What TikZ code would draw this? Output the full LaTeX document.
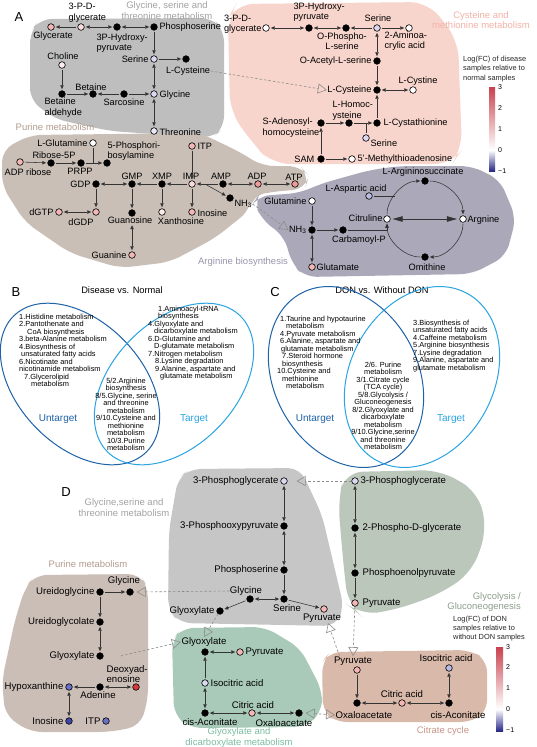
\documentclass[tikz,border=0pt]{standalone}
\usepackage{fontspec}
\setmainfont{Liberation Sans}
\usetikzlibrary{arrows.meta}
\definecolor{pkA}{HTML}{F2B6B6}
\definecolor{pkB}{HTML}{EC9A9A}
\definecolor{pkL}{HTML}{F8DCDC}
\definecolor{lav}{HTML}{D8D8F0}
\definecolor{lav2}{HTML}{B8BCE2}
\definecolor{rdN}{HTML}{D83A3A}
\definecolor{blN}{HTML}{6A70C4}
\definecolor{blD}{HTML}{3E46A8}
\definecolor{rgGray}{HTML}{BEBEBE}
\definecolor{rgPink}{HTML}{F8D5CC}
\definecolor{rgBrown}{HTML}{C9BFB7}
\definecolor{rgPurp}{HTML}{ABA9B9}
\definecolor{rgGrayD}{HTML}{C6C6C6}
\definecolor{rgGreen}{HTML}{BCC7BC}
\definecolor{rgBrownD}{HTML}{CBBEB7}
\definecolor{rgTeal}{HTML}{A9CAB9}
\definecolor{rgCit}{HTML}{D9B9A9}
\definecolor{tGray}{HTML}{A3A3A3}
\definecolor{tPink}{HTML}{F2B2A8}
\definecolor{tBrown}{HTML}{B49C8E}
\definecolor{tPurp}{HTML}{9896AC}
\definecolor{tGreen}{HTML}{8E9E8E}
\definecolor{tTeal}{HTML}{7DBDA2}
\definecolor{tCit}{HTML}{C8968A}
\definecolor{vDark}{HTML}{1E62A8}
\definecolor{vLight}{HTML}{2AA4E2}
\definecolor{cbR}{HTML}{C8424E}
\definecolor{cbB}{HTML}{282A88}
\begin{document}
\begin{tikzpicture}[x=1pt,y=-1pt,
  mn/.style={circle,draw=black,line width=0.6pt,minimum size=6.6pt,inner sep=0pt,fill=#1},
  mn/.default=black,
  la/.style={font=\fontsize{9.2}{10.5}\selectfont,inner sep=0.4pt,text=black},
  ld/.style={font=\fontsize{9.6}{10.5}\selectfont,inner sep=0.4pt,text=black},
  con/.style={draw=black!80,line width=0.55pt,shorten >=1.3pt,shorten <=1.3pt},
  ar/.style={con,-{Triangle[length=3.8pt,width=3.4pt]}},
  dar/.style={con,{Triangle[length=3.8pt,width=3.4pt]}-{Triangle[length=3.8pt,width=3.4pt]}},
  bdar/.style={draw=black!80,line width=0.6pt,shorten >=2.5pt,shorten <=2pt,{Triangle[length=10pt,width=5.5pt]}-{Triangle[length=10pt,width=5.5pt]}},
  dsh/.style={draw=black!45,line width=0.6pt,dash pattern=on 2.5pt off 2pt,-{Triangle[open,length=9pt,width=10pt]}},
  rt/.style={font=\fontsize{9.5}{10.5}\selectfont,inner sep=0pt,align=center},
  vt/.style={font=\fontsize{7.4}{7.5}\selectfont,inner sep=0pt},
  lt/.style={font=\fontsize{13}{13}\selectfont,inner sep=0pt},
  lg/.style={font=\fontsize{7.4}{9.6}\selectfont,inner sep=0pt,align=left,anchor=west,text=black!85},
  tk/.style={font=\fontsize{7}{7}\selectfont,inner sep=0pt,anchor=west},
  reg/.style={rounded corners=12pt}
]
\fill[white] (0,0) rectangle (536,747);
\useasboundingbox (0,0) rectangle (536,747);

% ================= regions A
\fill[rgGray,reg] (40,19) -- (212,18) -- (224,30) -- (224,128) -- (212,138) -- (110,131) -- (55,119) -- (30,100) -- (30,32) -- cycle;
\fill[rgPink,rounded corners=18pt] (236,4) -- (428,2) -- (458,40) -- (462,150) -- (452,164) -- (272,164) -- (255,146) -- (230,112) -- (228,18) -- cycle;
\fill[rgBrown,reg] (30,135) -- (200,133) -- (240,152) -- (262,166) -- (300,166) -- (309,176) -- (305,189) -- (270,192) -- (252,196) -- (250,210) -- (215,238) -- (170,262) -- (120,268) -- (70,253) -- (25,222) -- (2,186) -- (2,150) -- cycle;
\fill[rgPurp,reg] (254,202) -- (258,196) -- (300,193) -- (320,184) -- (370,170) -- (400,166) -- (472,166) -- (500,180) -- (516,218) -- (506,256) -- (472,274) -- (305,277) -- (292,264) -- (284,236) -- (262,220) -- cycle;

% ================= regions D
\fill[rgGrayD,reg] (190,469) -- (300,468) -- (322,515) -- (335,570) -- (344,608) -- (336,626) -- (180,623) -- (168,610) -- (169,530) -- (178,478) -- cycle;
\fill[rgGreen,rounded corners=18pt] (345,472) -- (440,470) -- (478,492) -- (487,530) -- (472,572) -- (440,594) -- (395,610) -- (360,615) -- (348,605) -- (343,560) -- (338,500) -- cycle;
\fill[rgBrownD,reg] (35,575) -- (140,574) -- (148,588) -- (148,700) -- (140,726) -- (110,732) -- (30,732) -- (5,715) -- (2,680) -- (15,620) -- (25,588) -- cycle;
\fill[rgTeal,reg] (182,628) -- (265,627) -- (300,648) -- (322,690) -- (322,712) -- (305,727) -- (190,728) -- (174,715) -- (172,640) -- cycle;
\fill[rgCit,reg] (330,652) -- (470,650) -- (487,660) -- (487,712) -- (472,722) -- (335,722) -- (323,712) -- (322,662) -- cycle;

% ================= region titles
\node[rt,text=tGray] (tA1) at (167,10.5) {Glycine, serine and\\threonine metabolism};
\node[rt,text=tPink] (tA2) at (481,20) {Cysteine and\\methionine metabolism};
\node[rt,text=tBrown] (tA3) at (55,127) {Purine metabolism};
\node[rt,text=tPurp] (tA4) at (243,262) {Arginine biosynthesis};
\node[rt,text=tGray] (tD1) at (124,507.5) {Glycine,serine and\\threonine metabolism};
\node[rt,text=tBrown] (tD2) at (88,564) {Purine metabolism};
\node[rt,text=tGreen,align=right,anchor=east] (tD3) at (521,602) {Glycolysis /\\Gluconeogenesis};
\node[rt,text=tTeal] (tD4) at (239,737.5) {Glyoxylate and\\dicarboxylate metabolism};
\node[rt,text=tCit] (tD5) at (443,731) {Citrate cycle};

% ================= panel letters
\node[lt] (LA) at (19,17) {A};
\node[lt] (LB) at (16,292) {B};
\node[lt] (LC) at (275,292) {C};
\node[lt] (LD) at (66,492) {D};

% ================= A gray nodes
\node[mn=pkA] (aGlyc) at (51,27) {};
\node[mn=pkL] (a3pdg) at (81,27) {};
\node[mn] (a3php) at (117,27) {};
\node[mn] (aPser) at (154,27) {};
\node[mn=lav] (aSer) at (154,59) {};
\node[mn] (aCys) at (186,59) {};
\node[mn=pkL!50] (aChol) at (62,65) {};
\node[mn] (aBald) at (62,94) {};
\node[mn] (aBet) at (93,94) {};
\node[mn] (aSarc) at (124,94) {};
\node[mn=lav] (aGly) at (154,94) {};
\node[mn=lav!60] (aThr) at (154,131) {};
\node[la] (lGlyc) at (53,36) {Glycerate};
\node[la,anchor=west,align=left] (l3pdg) at (68,12.5) {3-P-D-\\glycerate};
\node[la,anchor=west,align=left] (l3php) at (96,43) {3P-Hydroxy-\\pyruvate};
\node[la,anchor=west] (lPser) at (159,27) {Phosphoserine};
\node[la,anchor=east] (lSer) at (149,59) {Serine};
\node[la] (lCys) at (188,71) {L-Cysteine};
\node[la] (lChol) at (63,56) {Choline};
\node[la,anchor=west,align=left] (lBald) at (44,107.5) {Betaine\\aldehyde};
\node[la] (lBet) at (91,87) {Betaine};
\node[la] (lSarc) at (124,102) {Sarcosine};
\node[la,anchor=west] (lGly) at (159,95) {Glycine};
\node[la,anchor=west] (lThr) at (159,132) {Threonine};
\draw[ar] (a3pdg) -- (aGlyc);
\draw[dar] (a3pdg) -- (a3php);
\draw[dar] (a3php) -- (aPser);
\draw[ar] (aPser) -- (aSer);
\draw[ar] (aSer) -- (aCys);
\draw[dar] (aSer) -- (aGly);
\draw[dar] (aGly) -- (aThr);
\draw[ar] (aChol) -- (aBald);
\draw[ar] (aBald) -- (aBet);
\draw[ar] (aSarc) -- (aBet);
\draw[ar] (aSarc) -- (aGly);

% ================= A pink nodes
\node[mn=white] (p3pdg) at (266,28) {};
\node[mn] (p3php) at (309,28) {};
\node[mn] (pOPLS) at (346,28) {};
\node[mn=lav] (pSer) at (377,28) {};
\node[mn=white] (p2AA) at (409,28) {};
\node[mn] (pOAS) at (377,61) {};
\node[mn] (pCys) at (377,90) {};
\node[mn=white] (pCysn) at (413,90) {};
\node[mn] (pCysta) at (377,123) {};
\node[mn] (pHcy) at (349,123) {};
\node[mn] (pSAH) at (321,123) {};
\node[mn=lav] (pSer2) at (366,138) {};
\node[mn] (pSAM) at (321,159) {};
\node[mn=white] (pMTA) at (352,159) {};
\node[la,anchor=east,align=left] (lp3pdg) at (262,24) {3-P-D-\\glycerate};
\node[la,anchor=west,align=left] (lp3php) at (293,12) {3P-Hydroxy-\\pyruvate};
\node[la] (lpSer) at (378,18) {Serine};
\node[la,align=center] (lpOPLS) at (342,41) {O-Phospho-\\L-serine};
\node[la,anchor=west,align=left] (lp2AA) at (384,41) {2-Aminoa-\\crylic acid};
\node[la,anchor=east] (lpOAS) at (372,61) {O-Acetyl-L-serine};
\node[la,anchor=east] (lpCys) at (372,90) {L-Cysteine};
\node[la] (lpCysn) at (418,81) {L-Cystine};
\node[la,anchor=west,align=left] (lpHcy) at (332,111) {L-Homoc-\\ysteine};
\node[la,anchor=west,align=left] (lpSAH) at (262,127.5) {S-Adenosyl-\\homocysteine};
\node[la,anchor=west] (lpCysta) at (383,123) {L-Cystathionine};
\node[la,anchor=west] (lpSer2) at (370,143) {Serine};
\node[la,anchor=east] (lpSAM) at (315,159) {SAM};
\node[la,anchor=west] (lpMTA) at (357,159) {5'-Methylthioadenosine};
\draw[dar] (p3pdg) -- (p3php);
\draw[dar] (p3php) -- (pOPLS);
\draw[ar] (pSer) -- (pOPLS);
\draw[ar] (pSer) -- (p2AA);
\draw[dar] (pSer) -- (pOAS);
\draw[ar] (pOAS) -- (pCys);
\draw[dar] (pCys) -- (pCysn);
\draw[ar] (pCysta) -- (pCys);
\draw[ar] (pSAH) -- (pHcy);
\draw[ar] (pHcy) -- (pCysta);
\draw[con,shorten >=0pt] (pSer2) -- (pSer2 |- pHcy);
\draw[ar] (pSAM) -- (pSAH);
\draw[ar] (pSAM) -- (pMTA);
\draw[dsh] (lCys.east) -- (lpCys.west);

% ================= A purine nodes
\node[mn=pkA] (uADPr) at (20,162) {};
\node[mn] (uR5P) at (51,163) {};
\node[mn] (uPRPP) at (81,163) {};
\node[mn] (u5PRA) at (107,163) {};
\node[mn=white] (uLGln) at (93,143) {};
\node[mn=pkA] (uITP) at (192,146) {};
\node[mn] (uGDP) at (96,184) {};
\node[mn] (uGMP) at (132,184) {};
\node[mn] (uXMP) at (162,184) {};
\node[mn=pkL] (uIMP) at (192,184) {};
\node[mn] (uAMP) at (223,184) {};
\node[mn=pkB] (uADP) at (258,184) {};
\node[mn=pkB] (uATP) at (295,184) {};
\node[mn] (uNH3) at (230,198) {};
\node[mn=pkA] (udGTP) at (59,212) {};
\node[mn=pkA] (udGDP) at (96,212) {};
\node[mn] (uGuo) at (132,213) {};
\node[mn=pkL!60] (uXao) at (162,212) {};
\node[mn=pkA] (uIno) at (192,212) {};
\node[mn=pkA] (uGua) at (132,255) {};
\node[la] (luADPr) at (28,172) {ADP ribose};
\node[la] (luR5P) at (54,155) {Ribose-5P};
\node[la] (luPRPP) at (80,171) {PRPP};
\node[la,anchor=west,align=left] (lu5PRA) at (107,151) {5-Phosphori-\\bosylamine};
\node[la,anchor=east] (luLGln) at (88,143) {L-Glutamine};
\node[la,anchor=west] (luITP) at (197,146) {ITP};
\node[la,anchor=east] (luGDP) at (91,184) {GDP};
\node[la] (luGMP) at (132,176) {GMP};
\node[la] (luXMP) at (162,176) {XMP};
\node[la] (luIMP) at (191,176) {IMP};
\node[la] (luAMP) at (221,176) {AMP};
\node[la] (luADP) at (257,176) {ADP};
\node[la] (luATP) at (294,177) {ATP};
\node[la,anchor=west] (luNH3) at (234,204) {NH\textsubscript{3}};
\node[la,anchor=east] (ludGTP) at (54,212) {dGTP};
\node[la] (ludGDP) at (81,222) {dGDP};
\node[la] (luGuo) at (130,220) {Guanosine};
\node[la] (luXao) at (181,221) {Xanthosine};
\node[la,anchor=west] (luIno) at (197,213) {Inosine};
\node[la,anchor=east] (luGua) at (127,255) {Guanine};
\coordinate (uBr) at (205,184);
\draw[ar] (uADPr) -- (uR5P);
\draw[ar] (uR5P) -- (uPRPP);
\draw[ar] (uPRPP) -- (u5PRA);
\draw[con,shorten >=0pt] (uLGln) -- (uLGln |- uPRPP);
\draw[ar] (uITP) -- (uIMP);
\draw[ar] (uAMP) -- (uIMP);
\draw[ar] (uBr) -- (uNH3);
\draw[dar] (uAMP) -- (uADP);
\draw[dar] (uADP) -- (uATP);
\draw[ar] (uIMP) -- (uXMP);
\draw[ar] (uXMP) -- (uGMP);
\draw[dar] (uGDP) -- (uGMP);
\draw[ar] (uGDP) -- (udGDP);
\draw[dar] (udGTP) -- (udGDP);
\draw[ar] (uGMP) -- (uGuo);
\draw[ar] (uXMP) -- (uXao);
\draw[ar] (uIMP) -- (uIno);
\draw[dar] (luGuo.south -| uGua) -- (uGua);

% ================= A arginine nodes
\node[mn=white] (rGln) at (312,201) {};
\node[mn] (rNH3) at (312,230) {};
\node[mn=pkA] (rGlu) at (312,267) {};
\node[mn] (rCarb) at (343,230) {};
\node[mn=white] (rCit) at (387,219) {};
\node[mn] (rLAS) at (425,181) {};
\node[mn=white] (rArg) at (463,219) {};
\node[mn] (rOrn) at (425,257) {};
\node[mn=lav2] (rAsp) at (369,196) {};
\node[la,anchor=east] (lrGln) at (307,201) {Glutamine};
\node[la,anchor=east] (lrNH3) at (307,230) {NH\textsubscript{3}};
\node[la,anchor=west] (lrGlu) at (316,267) {Glutamate};
\node[la] (lrCarb) at (359,240) {Carbamoyl-P};
\node[la,anchor=east] (lrCit) at (383,218) {Citruline};
\node[la] (lrLAS) at (423,172) {L-Argininosuccinate};
\node[la,anchor=west] (lrArg) at (467,220) {Argnine};
\node[la] (lrOrn) at (427,267) {Omithine};
\node[la] (lrAsp) at (356,189) {L-Aspartic acid};
\coordinate (rAspJ) at (394.8,196);
\draw[ar] (rGln) -- (rNH3);
\draw[dar] (rNH3) -- (rGlu);
\draw[ar] (rNH3) -- (rCarb);
\draw[ar] (rCarb) -| (rCit);
\draw[ar] (rCit) .. controls (387,198) and (404,181) .. (rLAS);
\draw[ar] (rLAS) .. controls (446,181) and (463,198) .. (rArg);
\draw[ar] (rArg) .. controls (463,240) and (446,257) .. (rOrn);
\draw[ar] (rOrn) .. controls (404,257) and (387,240) .. (rCit);
\draw[bdar] (rCit) -- (rArg);
\draw[con,shorten >=0pt] (rAsp) -- (rAspJ);
\draw[dsh] (luNH3.east) -- (lrNH3.west);

% ================= A legend
\node[lg] (legA) at (463,69) {Log(FC) of disease\\samples relative to\\normal samples};
\shade[top color=cbR,bottom color=white] (489,87) rectangle (495,150);
\shade[top color=white,bottom color=cbB] (489,150) rectangle (495,171);
\node[tk] (cbA3) at (498,87) {3};
\node[tk] (cbA2) at (498,108) {2};
\node[tk] (cbA1) at (498,129) {1};
\node[tk] (cbA0) at (498,150) {0};
\node[tk] (cbAm) at (498,171) {−1};

% ================= B Venn
\node[font=\fontsize{9.3}{10}\selectfont,inner sep=0pt] (tB) at (122,290) {Disease vs. Normal};
\draw[vDark,line width=1pt,rotate around={-46:(80,384)}] (80,384) circle[x radius=95pt,y radius=62pt];
\draw[vLight,line width=1pt,rotate around={46:(174,384)}] (174,384) circle[x radius=95pt,y radius=62pt];
\node[vt,anchor=north west,align=left] (vB1) at (19,313.5) {1.Histidine metabolism\\2.Pantothenate and\\\hspace*{8pt}CoA biosynthesis\\3.beta-Alanine metabolism\\4.Biosynthesis of\\\hspace*{2pt}unsaturated fatty acids\\6.Nicotinate and\\nicotinamide metabolism\\\hspace*{5pt}7.Glycerolipid\\\hspace*{12pt}metabolism};
\node[vt,anchor=north west,align=left] (vB2) at (148,305.5) {\hspace*{10pt}1.Aminoacyl-tRNA\\\hspace*{10pt}biosynthesis\\4.Glyoxylate and\\\hspace*{6pt}dicarboxylate metabolism\\6.D-Glutamine and\\\hspace*{6pt}D-glutamate metabolism\\7.Nitrogen metabolism\\\hspace*{7pt}8.Lysine degradation\\\hspace*{7pt}9.Alanine, aspartate and\\\hspace*{12pt}glutamate metabolism};
\node[vt,anchor=north,align=center] (vB3) at (126,377.5) {5/2.Arginine\\biosynthesis\\8/5.Glycine, serine\\and threonine\\metabolism\\9/10.Cysteine and\\methionine\\metabolism\\10/3.Purine\\metabolism};
\node[font=\fontsize{10}{10}\selectfont,text=vDark,inner sep=0pt] (uB) at (58,419) {Untarget};
\node[font=\fontsize{10}{10}\selectfont,text=vLight,inner sep=0pt] (gB) at (194,419) {Target};

% ================= C Venn
\node[font=\fontsize{9.3}{10}\selectfont,inner sep=0pt] (tC) at (382,290) {DON vs. Without DON};
\draw[vDark,line width=1pt,rotate around={-62:(346,377)}] (346,377) circle[x radius=95pt,y radius=72pt];
\draw[vLight,line width=1pt,rotate around={62:(422,377)}] (422,377) circle[x radius=95pt,y radius=72pt];
\node[vt,anchor=north west,align=left] (vC1) at (277,315.5) {\hspace*{3pt}1.Taurine and hypotaurine\\\hspace*{9pt}metabolism\\\hspace*{3pt}4.Pyruvate metabolism\\\hspace*{3pt}6.Alanine, aspartate and\\\hspace*{4pt}glutamate metabolism\\\hspace*{5pt}7.Steroid hormone\\\hspace*{5pt}biosynthesis\\10.Cysteine and\\\hspace*{5pt}methionine\\\hspace*{9pt}metabolism};
\node[vt,anchor=north west,align=left] (vC2) at (413,319.5) {3.Biosynthesis of\\unsaturated fatty acids\\4.Caffeine metabolism\\5.Arginine biosynthesis\\7.Lysine degradation\\9.Alanine, aspartate and\\glutamate metabolism};
\node[vt,anchor=north,align=center] (vC3) at (383,361.5) {2/6. Purine\\metabolism\\3/1.Citrate cycle\\(TCA cycle)\\5/8.Glycolysis /\\Gluconeogenesis\\8/2.Glyoxylate and\\dicarboxylate\\metabolism\\9/10.Glycine,serine\\and threonine\\metabolism};
\node[font=\fontsize{10}{10}\selectfont,text=vDark,inner sep=0pt] (uC) at (315,419) {Untarget};
\node[font=\fontsize{10}{10}\selectfont,text=vLight,inner sep=0pt] (gC) at (451,419) {Target};

% ================= D gray
\node[mn=lav] (dg3pg) at (284,481) {};
\node[mn] (dg3pop) at (284,526) {};
\node[mn] (dgps) at (284,570) {};
\node[mn] (dgser) at (284,599) {};
\node[mn] (dggly) at (250,599) {};
\node[mn] (dggxy) at (220,611) {};
\node[mn=pkA] (dgpyr) at (324,609) {};
\node[ld,anchor=east] (ldg3pg) at (279,481) {3-Phosphoglycerate};
\node[ld,anchor=east] (ldg3pop) at (279,526) {3-Phosphooxypyruvate};
\node[ld,anchor=east] (ldgps) at (279,570) {Phosphoserine};
\node[ld] (ldgser) at (287,608) {Serine};
\node[ld] (ldggly) at (246,591) {Glycine};
\node[ld,anchor=east] (ldggxy) at (215,611) {Glyoxylate};
\node[ld] (ldgpyr) at (322,618) {Pyruvate};
\draw[dar] (dg3pg) -- (dg3pop);
\draw[dar] (dg3pop) -- (dgps);
\draw[ar] (dgps) -- (dgser);
\draw[dar] (dggly) -- (dgser);
\draw[ar] (dggly) -- (dggxy);
\draw[ar] (dgser) -- (dgpyr);

% ================= D glycolysis
\node[mn=lav] (dn3pg) at (355,481) {};
\node[mn] (dn2pdg) at (355,528) {};
\node[mn] (dnpep) at (355,573) {};
\node[mn=pkA] (dnpyr) at (355,603) {};
\node[ld,anchor=west] (ldn3pg) at (360,481) {3-Phosphoglycerate};
\node[ld,anchor=west] (ldn2pdg) at (362,528) {2-Phospho-D-glycerate};
\node[ld,anchor=west] (ldnpep) at (362,573) {Phosphoenolpyruvate};
\node[ld,anchor=west] (ldnpyr) at (362,603) {Pyruvate};
\draw[dar] (dn3pg) -- (dn2pdg);
\draw[dar] (dn2pdg) -- (dnpep);
\draw[ar] (dnpep) -- (dnpyr);

% ================= D purine
\node[mn] (dpgly) at (130,592) {};
\node[mn] (dpugly) at (100,592) {};
\node[mn] (dpugc) at (100,622) {};
\node[mn] (dpgxy) at (100,656) {};
\node[mn] (dpade) at (100,687) {};
\node[mn=rdN] (dpdeo) at (136,687) {};
\node[mn=blN] (dphyp) at (69,687) {};
\node[mn=blD] (dpino) at (69,721) {};
\node[mn=blN] (dpitp) at (106,721) {};
\node[ld] (ldpgly) at (124,581) {Glycine};
\node[ld,anchor=east] (ldpugly) at (95,592) {Ureidoglycine};
\node[ld,anchor=east] (ldpugc) at (95,622) {Ureidoglycolate};
\node[ld,anchor=east] (ldpgxy) at (95,656) {Glyoxylate};
\node[ld] (ldpade) at (98,695) {Adenine};
\node[ld,anchor=west,align=left] (ldpdeo) at (106,674) {Deoxyad-\\enosine};
\node[ld,anchor=east] (ldphyp) at (64,687) {Hypoxanthine};
\node[ld,anchor=east] (ldpino) at (64,721) {Inosine};
\node[ld,anchor=east] (ldpitp) at (101,721) {ITP};
\draw[ar] (dpugly) -- (dpgly);
\draw[ar] (dpugly) -- (dpugc);
\draw[dar] (dpugc) -- (dpgxy);
\draw[dar] (dpade) -- (dpdeo);
\draw[ar] (dpade) -- (dphyp);
\draw[dar] (dphyp) -- (dpino);

% ================= D glyoxylate
\node[mn] (dygxy) at (205,652) {};
\node[mn=pkA] (dypyr) at (240,652) {};
\node[mn=lav] (dyiso) at (205,683) {};
\node[mn] (dycis) at (205,713) {};
\node[mn=pkA] (dycit) at (252,713) {};
\node[mn] (dyoxa) at (299,713) {};
\node[ld] (ldygxy) at (204,642) {Glyoxylate};
\node[ld,anchor=west] (ldypyr) at (245,652) {Pyruvate};
\node[ld,anchor=west] (ldyiso) at (210,683) {Isocitric acid};
\node[ld] (ldycis) at (210,722) {cis-Aconitate};
\node[ld] (ldycit) at (253,705) {Citric acid};
\node[ld] (ldyoxa) at (284,723) {Oxaloacetate};
\draw[dar] (dygxy) -- (dypyr);
\draw[ar] (dyiso) -- (dygxy);
\draw[dar] (dycis) -- (dyiso);
\draw[dar] (dycis) -- (dycit);
\draw[dar] (dycit) -- (dyoxa);

% ================= D citrate
\node[mn=pkA] (dcpyr) at (357,670) {};
\node[mn] (dcoxa) at (357,703) {};
\node[mn=pkA] (dccit) at (402,703) {};
\node[mn] (dccis) at (449,703) {};
\node[mn=lav2] (dciso) at (449,668) {};
\node[ld] (ldcpyr) at (353,661) {Pyruvate};
\node[ld] (ldcoxa) at (364,715) {Oxaloacetate};
\node[ld] (ldccit) at (402,694) {Citric acid};
\node[ld] (ldccis) at (458,715) {cis-Aconitate};
\node[ld] (ldciso) at (446,658) {Isocitric acid};
\draw[ar] (dcpyr) -- (dcoxa);
\draw[dar] (dcoxa) -- (dccit);
\draw[dar] (dccit) -- (dccis);
\draw[dar] (dccis) -- (dciso);

% ================= D dashed links
\draw[dsh] (dn3pg.west) -- ([xshift=9pt]dg3pg.east);
\draw[dsh] (ldggly.west) -- ([xshift=3pt]dpgly.east);
\draw[dsh] (dggxy) -- (ldygxy.north);
\draw[dsh] ([xshift=17pt]dpgxy.east) -- (ldygxy.west);
\draw[dsh] ([xshift=6pt]ldcpyr.north west) -- ([xshift=6pt]ldgpyr.south);
\draw[dsh] (dnpyr) -- (ldcpyr.north);
\draw[dsh,{Triangle[open,length=9pt,width=10pt]}-{Triangle[open,length=9pt,width=10pt]}] ([xshift=3pt]dyoxa.east) -- (ldcoxa.west);

% ================= D legend
\node[lg,font=\fontsize{7.4}{9}\selectfont] (legD) at (453,629) {Log(FC) of DON\\samples relative to\\without DON samples};
\shade[top color=cbR,bottom color=white] (496,647) rectangle (503,709);
\shade[top color=white,bottom color=cbB] (496,709) rectangle (503,731);
\node[tk] (cbD3) at (506,647) {3};
\node[tk] (cbD2) at (506,667) {2};
\node[tk] (cbD1) at (506,688) {1};
\node[tk] (cbD0) at (506,709) {0};
\node[tk] (cbDm) at (506,730) {−1};
\end{tikzpicture}
\end{document}
